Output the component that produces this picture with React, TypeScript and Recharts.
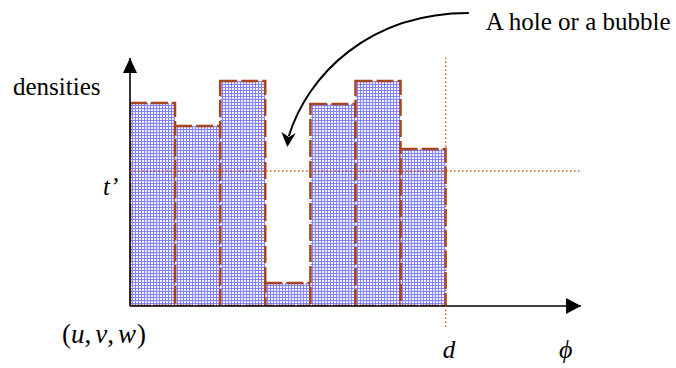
import React from "react";
import { BarChart, Bar, XAxis, YAxis, ReferenceLine, ReferenceDot } from "recharts";

// ---- data ----
const categories = ["b1", "b2", "b3", "b4", "b5", "b6", "b7"];
const positions = [0.5, 1.5, 2.5, 3.5, 4.5, 5.5, 6.5];
const densities = [203, 180, 225, 23, 202, 225, 157];
const tPrime = 135;
const dPosition = 7;
const holeCenter = 3.5;
const holeArrowTip = 159;
const yMax = 248;
const xMax = 10;
const originVars = ["u", "v", "w"];
const labels = {
  y: "densities",
  t: "t\u2019",
  d: "d",
  x: "\u03D5",
  hole: "A hole or a bubble",
};

const data = categories.map((c, i) => ({ cat: c, pos: positions[i], density: densities[i] }));

const SERIF = "'Liberation Serif', 'Times New Roman', serif";
const BROWN = "#a8441c";
const DOT = "#c8561e";

const YArrow = (p: any) => (
  <g>
    <polygon points={`${p.cx},${p.cy} ${p.cx - 7},${p.cy + 15} ${p.cx + 7},${p.cy + 15}`} fill="#000" />
    <text x={p.cx - 117} y={p.cy + 37} fontFamily={SERIF} fontSize={25} fill="#000">
      {labels.y}
    </text>
  </g>
);

const XArrow = (p: any) => (
  <g>
    <polygon points={`${p.cx},${p.cy} ${p.cx - 15},${p.cy - 8} ${p.cx - 15},${p.cy + 8}`} fill="#000" />
    <text x={p.cx - 22} y={p.cy + 52} fontFamily={SERIF} fontStyle="italic" fontSize={26} fill="#000">
      {labels.x}
    </text>
  </g>
);

const OriginLabel = (p: any) => (
  <text x={p.cx - 68} y={p.cy + 37} fontFamily={SERIF} fontSize={27} fill="#000">
    <tspan>(</tspan>
    <tspan fontStyle="italic">{originVars[0]}</tspan>
    <tspan>,</tspan>
    <tspan fontStyle="italic" dx={4}>{originVars[1]}</tspan>
    <tspan>,</tspan>
    <tspan fontStyle="italic" dx={4}>{originVars[2]}</tspan>
    <tspan dx={1}>)</tspan>
  </text>
);

const DLabel = (p: any) => (
  <text x={p.cx - 3} y={p.cy + 52} fontFamily={SERIF} fontStyle="italic" fontSize={25} fill="#000">
    {labels.d}
  </text>
);

const TLabel = (p: any) => (
  <text x={p.cx - 27} y={p.cy + 24} fontFamily={SERIF} fontStyle="italic" fontSize={25} fill="#000">
    {labels.t}
  </text>
);

const HoleArrow = (p: any) => {
  const x = p.cx;
  const y = p.cy;
  return (
    <g>
      <path
        d={`M ${x + 181} ${y - 134} C ${x + 81} ${y - 134}, ${x + 20} ${y - 72}, ${x + 1} ${y - 11}`}
        fill="none"
        stroke="#000"
        strokeWidth={2}
      />
      <polygon
        points={`${x - 0.5},${y} ${x - 6.5},${y - 15} ${x + 1},${y - 10} ${x + 8},${y - 14}`}
        fill="#000"
      />
      <text x={x + 198} y={y - 117} fontFamily={SERIF} fontSize={25} fill="#000">
        {labels.hole}
      </text>
    </g>
  );
};

export default function App() {
  return (
    <div style={{ width: 676, height: 368 }}>
      <style>{"body{margin:0;overflow:hidden;background:#fff}"}</style>
      <BarChart
        width={676}
        height={368}
        data={data}
        margin={{ top: 58, right: 95, bottom: 62, left: 130 }}
        barCategoryGap={0}
        barGap={0}
      >
        <defs>
          <pattern id="gridFill" width="3" height="3" patternUnits="userSpaceOnUse">
            <rect width="3" height="3" fill="#f4f4ff" />
            <rect width="3" height="1" fill="#8282ff" />
            <rect width="1" height="3" fill="#8282ff" />
          </pattern>
        </defs>
        <XAxis dataKey="pos" type="number" domain={[0, xMax]} hide allowDataOverflow />
        <YAxis domain={[0, yMax]} hide allowDataOverflow />
        <ReferenceLine
          segment={[{ x: 0, y: 0 }, { x: xMax, y: 0 }]}
          stroke="#000"
          strokeWidth={1.6}
          ifOverflow="visible"
        />
        <ReferenceLine
          segment={[{ x: 0, y: 0 }, { x: 0, y: yMax }]}
          stroke="#000"
          strokeWidth={1.6}
          ifOverflow="visible"
        />
        <Bar
          dataKey="density"
          fill="url(#gridFill)"
          stroke={BROWN}
          strokeWidth={2.5}
          strokeDasharray="17 4"
          isAnimationActive={false}
        />
        <ReferenceLine
          segment={[{ x: 0, y: tPrime }, { x: xMax, y: tPrime }]}
          stroke={DOT}
          strokeWidth={1.3}
          strokeDasharray="1.5 2.5"
          ifOverflow="visible"
        />
        <ReferenceLine
          segment={[{ x: dPosition, y: -21 }, { x: dPosition, y: yMax }]}
          stroke={DOT}
          strokeWidth={1.3}
          strokeDasharray="1.5 2.5"
          ifOverflow="visible"
        />
        <ReferenceDot x={0} y={yMax} r={0} ifOverflow="visible" shape={YArrow} />
        <ReferenceDot x={xMax} y={0} r={0} ifOverflow="visible" shape={XArrow} />
        <ReferenceDot x={0} y={0} r={0} ifOverflow="visible" shape={OriginLabel} />
        <ReferenceDot x={dPosition} y={0} r={0} ifOverflow="visible" shape={DLabel} />
        <ReferenceDot x={0} y={tPrime} r={0} ifOverflow="visible" shape={TLabel} />
        <ReferenceDot x={holeCenter} y={holeArrowTip} r={0} ifOverflow="visible" shape={HoleArrow} />
      </BarChart>
    </div>
  );
}
